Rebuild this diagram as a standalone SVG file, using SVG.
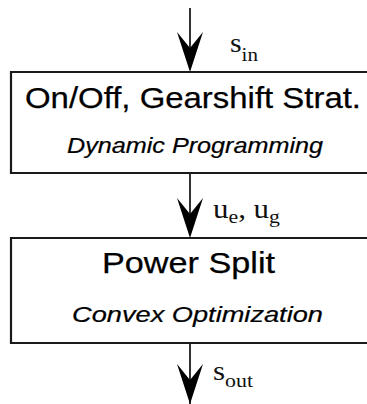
<svg xmlns="http://www.w3.org/2000/svg" width="367" height="404" viewBox="0 0 367 404">
  <style>
    .box { fill: none; stroke: #1a1a1a; stroke-width: 2.2; }
    .wire { stroke: #000000; stroke-width: 1.6; fill: none; }
    .head { fill: #000000; }
    .title { font-family: "Liberation Sans", Arial, sans-serif; fill: #000000; stroke: #000000; stroke-width: 0.25; }
    .sub { font-family: "Liberation Sans", Arial, sans-serif; font-style: italic; fill: #000000; stroke: #000000; stroke-width: 0.2; }
    .sig { font-family: "Liberation Serif", "Times New Roman", serif; fill: #111111; font-size: 27px; }
    .idx { font-size: 19px; }
  </style>
  <defs>
    <path id="barb" class="head" d="M0,0 L-13,-40 L0,-24 L13,-40 Z"/>
  </defs>
  <rect width="367" height="404" fill="#ffffff"/>

  <!-- connectors -->
  <g id="connectors">
    <line class="wire" x1="190" y1="8" x2="190" y2="60"/>
    <use href="#barb" x="190" y="72"/>
    <line class="wire" x1="190" y1="173" x2="190" y2="226"/>
    <use href="#barb" x="190" y="238"/>
    <line class="wire" x1="190" y1="343" x2="190" y2="404"/>
    <use href="#barb" x="190" y="404"/>
    <text class="sig" x="230" y="52" textLength="28" lengthAdjust="spacingAndGlyphs">s<tspan class="idx" dy="9">in</tspan></text>
    <text class="sig" x="213" y="218" textLength="67" lengthAdjust="spacingAndGlyphs">u<tspan class="idx" dy="5">e</tspan><tspan dy="-5">, u</tspan><tspan class="idx" dy="5">g</tspan></text>
    <text class="sig" x="213" y="380" textLength="40" lengthAdjust="spacingAndGlyphs">s<tspan class="idx" dy="7">out</tspan></text>
  </g>

  <!-- upper block: on/off and gearshift strategy (runs off the right edge) -->
  <g id="strategy">
    <path class="box" d="M420,72 H11 V173 H420"/>
    <text class="title" x="25" y="108" font-size="30" textLength="336" lengthAdjust="spacingAndGlyphs">On/Off, Gearshift Strat.</text>
    <text class="sub" x="67" y="153" font-size="21.5" textLength="256" lengthAdjust="spacingAndGlyphs">Dynamic Programming</text>
  </g>

  <!-- lower block: power split (runs off the right edge) -->
  <g id="power-split">
    <path class="box" d="M420,238 H11 V343 H420"/>
    <text class="title" x="102" y="273" font-size="29" textLength="173" lengthAdjust="spacingAndGlyphs">Power Split</text>
    <text class="sub" x="72" y="322" font-size="21.5" textLength="251" lengthAdjust="spacingAndGlyphs">Convex Optimization</text>
  </g>
</svg>
